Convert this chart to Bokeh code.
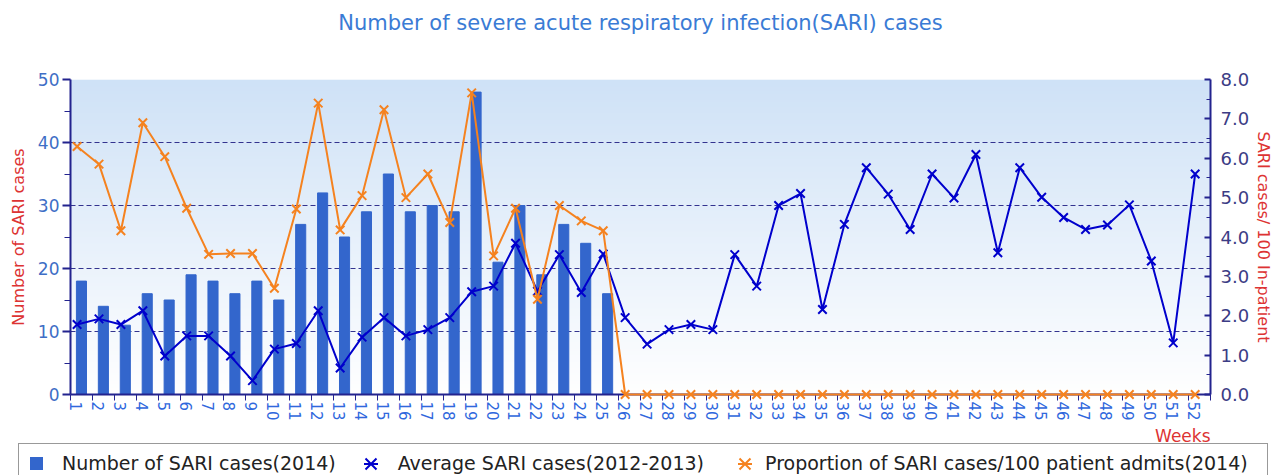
import numpy as np
from bokeh.plotting import figure
from bokeh.layouts import column
from bokeh.models import (Range1d, LinearAxis, FixedTicker, PrintfTickFormatter,
                          Title, ColumnDataSource, Div)
from bokeh.transform import dodge
from bokeh.embed import file_html
from bokeh.resources import INLINE

# ---------------- data ----------------
weeks = list(range(1, 53))
week_labels = [str(w) for w in weeks]

bar_weeks = list(range(1, 26))
sari_cases_2014 = [18, 14, 11, 16, 15, 19, 18, 16, 18, 15, 27, 32, 25, 29, 35,
                   29, 30, 29, 48, 21, 30, 19, 27, 24, 16]

avg_sari_2012_2013 = [11.1, 12.0, 11.1, 13.3, 6.1, 9.3, 9.3, 6.1, 2.2, 7.2,
                      8.1, 13.3, 4.2, 9.1, 12.2, 9.3, 10.3, 12.2, 16.3, 17.2,
                      24.0, 16.4, 22.2, 16.2, 22.3, 12.2, 8.0, 10.3, 11.1, 10.3,
                      22.2, 17.2, 30.0, 31.9, 13.5, 27.0, 36.0, 31.8, 26.2, 35.0,
                      31.2, 38.1, 22.5, 36.0, 31.3, 28.1, 26.2, 26.9, 30.1, 21.2,
                      8.2, 35.0]

proportion_2014 = [6.3, 5.85, 4.16, 6.9, 6.04, 4.73, 3.56, 3.58, 3.58, 2.7,
                   4.71, 7.4, 4.18, 5.05, 7.23, 5.0, 5.6, 4.37, 7.66, 3.52,
                   4.73, 2.42, 4.8, 4.41, 4.16, 0, 0, 0, 0, 0,
                   0, 0, 0, 0, 0, 0, 0, 0, 0, 0,
                   0, 0, 0, 0, 0, 0, 0, 0, 0, 0,
                   0, 0]

left_ticks = [0, 10, 20, 30, 40, 50]
right_ticks = [0, 1, 2, 3, 4, 5, 6, 7, 8]

title_text = "Number of severe acute respiratory infection(SARI) cases"
left_label = "Number of SARI cases"
right_label = "SARI cases/ 100 In-patient"
x_label = "Weeks"
series_names = ["Number of SARI cases(2014)",
                "Average SARI cases(2012-2013)",
                "Proportion of SARI cases/100 patient admits(2014)"]

# ---------------- styles ----------------
FONT = "DejaVu Sans"
NAVY = "#23238E"
BAR_C = "#3366CC"
BLUE_C = "#0000CC"
ORANGE_C = "#F5821F"
RED_T = "#DD3333"

x_range = Range1d(0.5, 52.5)
y_range = Range1d(left_ticks[0], left_ticks[-1])

p = figure(width=1276, height=445, x_range=x_range, y_range=y_range,
           title=None, output_backend="svg", toolbar_location=None,
           min_border_left=70, min_border_right=64, min_border_top=79,
           min_border_bottom=51, outline_line_color=None,
           background_fill_color="white", border_fill_color="white")

# spacer between frame and title (first added = closest to the frame)
p.add_layout(Title(text=" ", text_font_size="1px", standoff=42), "above")
p.add_layout(Title(text=title_text, align="center", text_font=FONT,
                   text_font_size="21px", text_font_style="normal",
                   text_color="#3A7BD5", standoff=0), "above")

p.extra_y_ranges = {"pct": Range1d(right_ticks[0], right_ticks[-1])}

# gradient background (decoration)
nrows = 315
t = np.linspace(0, 1, nrows)[:, None]
top = np.array([207, 226, 247])
bot = np.array([255, 255, 255])
img = np.empty((nrows, 1), dtype=np.uint32)
view = img.view(dtype=np.uint8).reshape((nrows, 1, 4))
for k in range(3):
    view[:, :, k] = (bot[k] + (top[k] - bot[k]) * t).astype(np.uint8)
view[:, :, 3] = 255
bg = p.image_rgba(image=[img], x=x_range.start, y=y_range.start,
                  dw=x_range.end - x_range.start, dh=y_range.end - y_range.start)
bg.level = "image"

# grid
p.xgrid.visible = False
p.ygrid.ticker = FixedTicker(ticks=left_ticks)
p.ygrid.grid_line_color = "#33338F"
p.ygrid.grid_line_dash = "5 3"
p.ygrid.grid_line_width = 1

# data sources
bar_src = ColumnDataSource(data=dict(week=bar_weeks, cases=sari_cases_2014))
line_src = ColumnDataSource(data=dict(week=weeks, avg=avg_sari_2012_2013,
                                      prop=proportion_2014))

p.vbar(x="week", top="cases", width=0.46, source=bar_src,
       fill_color=BAR_C, line_color=BAR_C)

xd = dodge("week", -0.2)
p.line(x=xd, y="avg", source=line_src, line_color=BLUE_C, line_width=2)
p.scatter(x=xd, y="avg", source=line_src, marker="x", size=12,
          line_color=BLUE_C, line_width=2)

ol = p.line(x=xd, y="prop", source=line_src, y_range_name="pct",
            line_color=ORANGE_C, line_width=2)
os_ = p.scatter(x=xd, y="prop", source=line_src, y_range_name="pct", marker="x",
                size=12, line_color=ORANGE_C, line_width=2)
ol.level = "overlay"
os_.level = "overlay"

# axes
xax = p.xaxis[0]
tick_pos = [w - 0.25 for w in weeks]
xax.ticker = FixedTicker(ticks=tick_pos,
                         minor_ticks=[w - 0.5 for w in weeks] + [weeks[-1] + 0.5])
xax.major_label_overrides = {tp: lbl for tp, lbl in zip(tick_pos, week_labels)}
xax.major_label_orientation = "vertical"
xax.major_tick_out = 0
xax.major_tick_in = 0
xax.minor_tick_out = 6
xax.minor_tick_in = 0
xax.minor_tick_line_color = NAVY
xax.axis_line_color = NAVY
xax.axis_line_width = 2
xax.major_label_text_font = FONT
xax.major_label_text_font_size = "15px"
xax.major_label_text_color = "#3068DD"
xax.major_label_standoff = 1
xax.axis_label = x_label
xax.axis_label_text_font = FONT
xax.axis_label_text_font_size = "17px"
xax.axis_label_text_font_style = "normal"
xax.axis_label_text_color = RED_T
xax.axis_label_standoff = 4
use_weeks_title = False
try:
    xax.axis_label_align = "right"
except Exception:
    use_weeks_title = True
if use_weeks_title:
    xax.axis_label = None
    p.add_layout(Title(text=x_label, align="right", text_font=FONT,
                       text_font_size="17px", text_font_style="normal",
                       text_color=RED_T, standoff=0), "below")

yax = p.yaxis[0]
yax.ticker = FixedTicker(ticks=left_ticks,
                         minor_ticks=[v + 5 for v in left_ticks[:-1]])
yax.axis_line_color = NAVY
yax.axis_line_width = 2
yax.major_tick_out = 8
yax.major_tick_in = 0
yax.minor_tick_out = 6
yax.minor_tick_in = 0
yax.major_tick_line_color = NAVY
yax.minor_tick_line_color = NAVY
yax.major_tick_line_width = 2
yax.major_label_text_font = FONT
yax.major_label_text_font_size = "17px"
yax.major_label_text_color = "#3E6EC6"
yax.major_label_standoff = 3
yax.axis_label = left_label
yax.axis_label_text_font = FONT
yax.axis_label_text_font_size = "16px"
yax.axis_label_text_font_style = "normal"
yax.axis_label_text_color = RED_T
yax.axis_label_standoff = 7

rax = LinearAxis(y_range_name="pct",
                 ticker=FixedTicker(ticks=right_ticks,
                                    minor_ticks=[v + 0.5 for v in right_ticks[:-1]]),
                 formatter=PrintfTickFormatter(format="%.1f"))
rax.axis_line_color = NAVY
rax.axis_line_width = 2
rax.major_tick_in = 6
rax.major_tick_out = 0
rax.minor_tick_in = 4
rax.minor_tick_out = 0
rax.major_tick_line_color = NAVY
rax.minor_tick_line_color = NAVY
rax.major_tick_line_width = 2
rax.major_label_text_font = FONT
rax.major_label_text_font_size = "18px"
rax.major_label_text_color = "#3C3C85"
rax.major_label_standoff = 10
rax.axis_label = right_label
rax.axis_label_text_font = FONT
rax.axis_label_text_font_size = "16px"
rax.axis_label_text_font_style = "normal"
rax.axis_label_text_color = RED_T
rax.axis_label_standoff = 2
p.add_layout(rax, "right")

# ---------------- legend strip (HTML text, SVG icons) ----------------
def icon_square(c):
    return (f'<svg width="13" height="13" style="display:block;flex:none">'
            f'<rect x="0" y="0" width="13" height="13" fill="{c}"/></svg>')


def icon_star(c):
    return (f'<svg width="16" height="16" style="display:block;flex:none">'
            f'<path d="M2.5 2.5L13.5 13.5M13.5 2.5L2.5 13.5M1 8H15" '
            f'stroke="{c}" stroke-width="2" fill="none"/></svg>')


icons = [icon_square(BAR_C), icon_star(BLUE_C), icon_star(ORANGE_C)]
icon_gap = [11, 27, 33]
text_gap = [19, 19, 12]
parts = []
for ic, name, g1, g2 in zip(icons, series_names, icon_gap, text_gap):
    parts.append(f'<span style="margin-left:{g1}px;display:flex">{ic}</span>')
    parts.append(f'<span style="margin-left:{g2}px">{name}</span>')

legend_html = (
    '<div style="margin-left:18px;width:1250px;height:32px;box-sizing:border-box;'
    'border:1px solid #999999;border-bottom:none;background:#ffffff;'
    "font-family:'DejaVu Sans';font-size:19px;color:#222222;white-space:nowrap;"
    'display:flex;align-items:center;padding-top:8px;overflow:hidden">'
    + "".join(parts) + '</div>')

legend_div = Div(text=legend_html, width=1276, height=30, margin=(-2, 0, 0, 0))

layout = column(p, legend_div, spacing=0)
open("out.html", "w").write(file_html(layout, INLINE))
